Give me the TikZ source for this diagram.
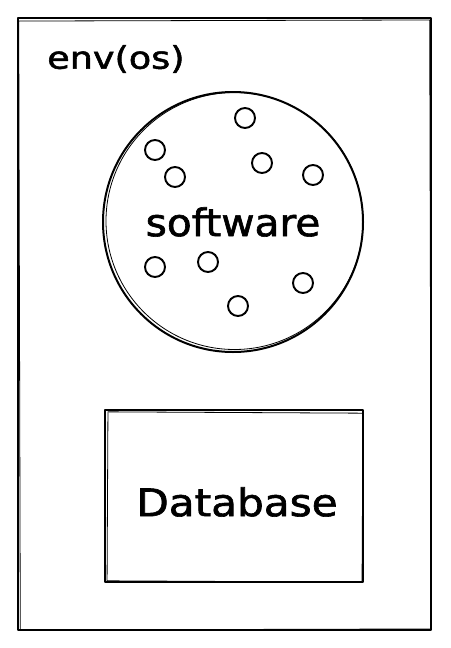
\documentclass[tikz,border=0pt]{standalone}
\usepackage{fontspec}
\setmainfont{DejaVu Sans}
\newfontfamily\handfont{DejaVu Sans}[FakeBold=1.6]
\begin{document}
\begin{tikzpicture}[x=1pt,y=-1pt,
  sketch/.style={draw=black, line width=2pt, line join=round, line cap=round},
  sketchthin/.style={draw=black, line width=0.8pt},
  dotcirc/.style={circle, draw=black, line width=1.9pt, minimum size=20pt, inner sep=0pt},
  lbl/.style={inner sep=0pt, text=black}]
\useasboundingbox (0,0) rectangle (450,648);
% outer environment box
\node[sketch, rectangle, minimum width=413pt, minimum height=612pt, inner sep=0pt] (env) at (224.5,324) {};
\node[sketchthin, rectangle, minimum width=411pt, minimum height=609pt, inner sep=0pt, rotate=0.15] (envb) at (225,325) {};
\node[lbl, anchor=west, font=\handfont\fontsize{31}{31}\selectfont, xscale=1.18] (envlbl) at (47,59) {env(os)};
% software circle
\node[sketch, circle, minimum size=260pt, inner sep=0pt] (sw) at (233,222) {};
\node[sketchthin, circle, minimum size=257pt, inner sep=0pt] (swb) at (234.5,221) {};
\node[lbl, font=\handfont\fontsize{38}{38}\selectfont, xscale=1.07] (swlbl) at (233,222) {software};
% dots
\node[dotcirc] (d1) at (245,118) {};
\node[dotcirc] (d2) at (155,150) {};
\node[dotcirc] (d3) at (175,177) {};
\node[dotcirc] (d4) at (262,163) {};
\node[dotcirc] (d5) at (313,175) {};
\node[dotcirc] (d6) at (155,267) {};
\node[dotcirc] (d7) at (208,262) {};
\node[dotcirc] (d8) at (303,283) {};
\node[dotcirc] (d9) at (238,306) {};
% database box
\node[sketch, rectangle, minimum width=258pt, minimum height=172pt, inner sep=0pt] (db) at (234,496) {};
\node[sketchthin, rectangle, minimum width=255pt, minimum height=169pt, inner sep=0pt, rotate=-0.3] (dbb) at (235,497) {};
\node[lbl, font=\handfont\fontsize{38}{38}\selectfont, xscale=1.11] (dblbl) at (237,502) {Database};
\end{tikzpicture}
\end{document}
